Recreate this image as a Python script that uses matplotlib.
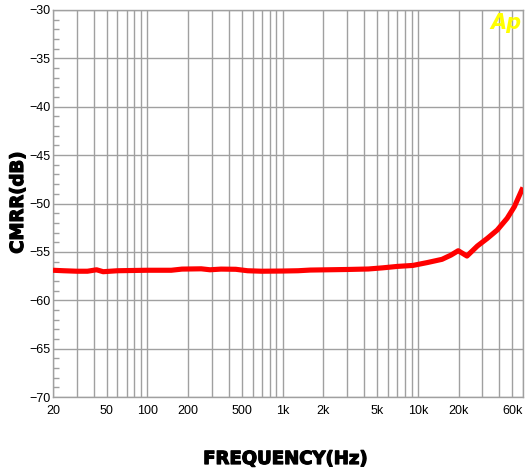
import numpy as np
import matplotlib
matplotlib.use("Agg")
import matplotlib.pyplot as plt
import matplotlib.patheffects as pe
from matplotlib.ticker import FixedLocator, NullFormatter, MultipleLocator

# CMRR vs frequency
freq_hz = [20, 24, 30, 36, 42, 47, 60, 80, 100, 150, 180, 250, 290, 350, 450,
           550, 700, 1000, 1300, 1600, 2200, 3000, 4300, 5500, 7100, 9200,
           11800, 15100, 17600, 19900, 23100, 27600, 32700, 38700, 45800,
           51800, 58800, 60000]
cmrr_db = [-56.9, -56.95, -57.0, -57.0, -56.85, -57.05, -56.95, -56.92, -56.9,
           -56.9, -56.78, -56.75, -56.85, -56.78, -56.8, -56.95, -57.0, -56.98,
           -56.95, -56.88, -56.85, -56.82, -56.77, -56.65, -56.5, -56.4, -56.1,
           -55.77, -55.33, -54.88, -55.43, -54.39, -53.6, -52.74, -51.53,
           -50.33, -48.6, -48.35]

x_ticks = [20, 50, 100, 200, 500, 1000, 2000, 5000, 10000, 20000, 60000]
x_labels = ["20", "50", "100", "200", "500", "1k", "2k", "5k", "10k", "20k", "60k"]
y_ticks = [-70, -65, -60, -55, -50, -45, -40, -35, -30]

plt.rcParams["font.family"] = ["Liberation Sans", "DejaVu Sans"]

fig = plt.figure(figsize=(5.26, 4.71), dpi=100)
ax = fig.add_axes([53 / 526, 74 / 471, 470 / 526, 387 / 471])

grid_c = "#a0a0a0"
minor_x = [m * 10 ** d for d in range(1, 5) for m in range(1, 10)]
minor_x = [v for v in minor_x if 20 <= v <= 60000]
for v in minor_x:
    ax.axvline(v, color=grid_c, lw=1, zorder=1)
for v in y_ticks:
    ax.axhline(v, color=grid_c, lw=1, zorder=1)

ax.plot(freq_hz, cmrr_db, color="#ff0000", lw=3.7, solid_capstyle="butt",
        solid_joinstyle="round", zorder=3)

ax.set_xscale("log")
ax.set_xlim(20, 60000)
ax.set_ylim(-70, -30)
ax.xaxis.set_major_locator(FixedLocator(x_ticks))
ax.set_xticklabels(x_labels)
ax.xaxis.set_minor_formatter(NullFormatter())
ax.xaxis.set_minor_locator(FixedLocator([]))
ax.set_yticks(y_ticks)
ax.yaxis.set_minor_locator(MultipleLocator(1))

ax.tick_params(axis="x", which="major", length=0, pad=6, labelsize=9)
ax.tick_params(axis="y", which="major", length=0, pad=2, labelsize=9)
ax.tick_params(axis="y", which="minor", direction="in", length=4,
               color=grid_c, width=1)
ax.get_xticklabels()[-1].set_horizontalalignment("right")

for s in ax.spines.values():
    s.set_color(grid_c)
    s.set_linewidth(1)

heavy = [pe.withStroke(linewidth=0.9, foreground="black")]
fig.text(285 / 526, 1 - 459 / 471, "FREQUENCY(Hz)", ha="center", va="center",
         fontsize=13, fontweight="bold", family="DejaVu Sans",
         path_effects=heavy)
fig.text(18 / 526, 1 - 203 / 471, "CMRR(dB)", ha="center", va="center",
         rotation=90, fontsize=13, fontweight="bold", family="DejaVu Sans",
         path_effects=heavy)

ax.text(0.963, 0.966, "Ap", transform=ax.transAxes, ha="center", va="center",
        color="#ffff00", fontsize=15, fontweight="bold", fontstyle="italic",
        family="DejaVu Sans", zorder=4)

fig.savefig("out.png", dpi=100)
